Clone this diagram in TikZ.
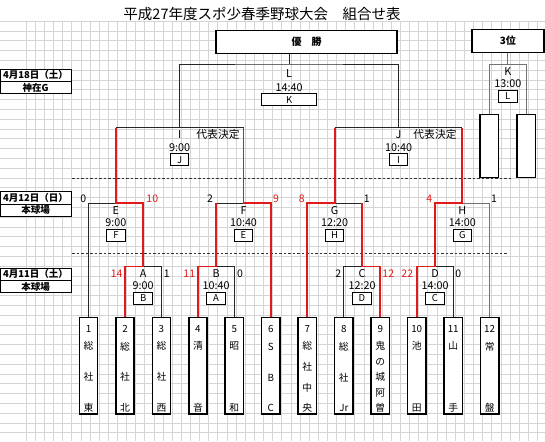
\documentclass[tikz,border=0pt]{standalone}
\usepackage{fontspec}
\setmainfont{Noto Sans CJK JP}
\usetikzlibrary{positioning}

\definecolor{gridgray}{RGB}{212,212,212}
\definecolor{winred}{RGB}{225,25,25}

\tikzset{
  gridline/.style={gridgray, line width=0.5pt},
  bracket/.style={black!85, line width=0.9pt},
  lightbracket/.style={black!55, line width=0.9pt},
  winpath/.style={winred, line width=1.8pt},
  sepline/.style={black!80, line width=0.8pt, dash pattern=on 2.5pt off 2pt},
  teambox/.style={draw, line width=1.5pt, fill=white, minimum width=18.3pt,
    minimum height=96.6pt, inner sep=0pt, anchor=north},
  teamname/.style={align=center, inner sep=0pt, font=\fontsize{9.8}{11}\selectfont},
  letterbox/.style={draw, line width=1pt, fill=white, minimum width=18.5pt,
    minimum height=11.6pt, inner sep=0pt, font=\fontsize{9.5}{9.5}\selectfont},
  headbox/.style={draw, line width=1.3pt, fill=white, minimum height=23.3pt,
    inner sep=0pt, font=\fontsize{10}{10}\selectfont\bfseries},
  datebox/.style={draw, line width=0.9pt, fill=white, minimum width=71pt,
    minimum height=12.4pt, inner sep=0pt, font=\fontsize{9.5}{9.5}\selectfont\bfseries},
  emptybox/.style={draw, line width=1.5pt, fill=white, minimum width=18.6pt,
    minimum height=63.4pt, inner sep=0pt},
  matchtext/.style={inner sep=0pt, font=\fontsize{10.8}{10.8}\selectfont},
  score/.style={inner sep=0pt, font=\fontsize{10.5}{10.5}\selectfont},
  winscore/.style={score, winred}
}

\begin{document}
\begin{tikzpicture}[x=1pt, y=-1pt]
    \useasboundingbox (0,0) rectangle (545,441);
    \fill[white] (0,0) rectangle (545,441);

    % Sheet grid
    \foreach \k in {0,...,56}
        \draw[gridline] ({26+9.13*\k},21) -- ({26+9.13*\k},441);
    \foreach \k in {0,...,42}
        \draw[gridline] (0,{21+9.8*\k}) -- (545,{21+9.8*\k});

    % Title
    \node[font=\fontsize{14.5}{14.5}\selectfont] (title) at (262,14)
        {平成27年度スポ少春季野球大会　組合せ表};

    % Day separators
    \draw[sepline] (72,178) -- (512,178);
    \draw[sepline] (72,253.3) -- (507,253.3);

    % Dates and grounds
    \node[datebox] (day3) at (35.5,75.3) {4月18日（土）};
    \node[datebox, below=-0.9pt of day3] (ground3) {神在G};
    \node[datebox] (day2) at (35.5,198) {4月12日（日）};
    \node[datebox, below=-0.9pt of day2] (ground2) {本球場};
    \node[datebox] (day1) at (35.5,274.3) {4月11日（土）};
    \node[datebox, below=-0.9pt of day1] (ground1) {本球場};

    % Teams
    \foreach \n/\name in {
        1/{1\\[6.7pt]総\\[19.8pt]社\\[19.8pt]東},
        2/{2\\[6.7pt]総\\[19.8pt]社\\[19.8pt]北},
        3/{3\\[6.7pt]総\\[19.8pt]社\\[19.8pt]西},
        4/{4\\[6.7pt]清\\[50.7pt]音},
        5/{5\\[6.7pt]昭\\[50.7pt]和},
        6/{6\\[6.7pt]S\\[19.8pt]B\\[19.8pt]C},
        7/{7\\[6.7pt]総\\[9.6pt]社\\[9.6pt]中\\[9.6pt]央},
        8/{8\\[6.7pt]総\\[19.8pt]社\\[19.8pt]Jr},
        9/{9\\[6.7pt]鬼\\[4.4pt]の\\[4.4pt]城\\[4.4pt]阿\\[4.4pt]曽},
        10/{10\\[6.7pt]池\\[50.7pt]田},
        11/{11\\[6.7pt]山\\[50.7pt]手},
        12/{12\\[6.7pt]常\\[50.7pt]盤}}
    {
        \node[teambox] (t\n) at ({88.5+36.47*(\n-1)},316.7) {};
        \node[teamname] (n\n) at ([yshift=-3pt]t\n.center) {\name};
    }

    % Final and third place boxes
    \node[headbox, minimum width=181pt] (champ) at (306.5,42.2) {優　勝};
    \node[headbox, minimum width=72pt] (third) at (507.9,41) {3位};
    \node[emptybox] (q1) at (489.3,146) {};
    \node[emptybox] (q2) at (526.2,146) {};

    % Match points: first round
    \coordinate (A) at (143.2,266.5);
    \coordinate (B) at (216.1,266.5);
    \coordinate (C) at (362.0,266.5);
    \coordinate (D) at (435.0,266.5);
    % second round
    \coordinate (E) at (115.9,203.3);
    \coordinate (F) at (243.5,203.3);
    \coordinate (G) at (334.7,203.3);
    \coordinate (H) at (462.3,203.3);
    % representatives
    \coordinate (I) at (179.7,127.7);
    \coordinate (J) at (398.5,127.7);
    % final and third place
    \coordinate (L) at (289.1,64);
    \coordinate (K) at (507.8,64.3);

    % Bracket lines
    \draw[bracket] (t1.north) |- (E);
    \draw[bracket] (t3.north) |- (A);
    \draw[bracket] (t5.north) |- (B);
    \draw[bracket] (t8.north) |- (C);
    \draw[bracket] (t11.north) |- (D);
    \draw[lightbracket] (t12.north) |- (H);
    \draw[bracket] (B |- F) -- (F);
    \draw[bracket] (C |- G) -- (G);
    \draw[bracket] (E |- I) -- (F |- I);
    \draw[bracket] (G |- J) -- (H |- J);
    \draw[bracket] (I) |- (L) -| (J);
    \draw[bracket] (L) -- (L |- champ.south);
    \draw[lightbracket] (q1.north) |- (K) -| (q2.north);
    \draw[lightbracket] (K) -- (K |- third.south);

    % Winners
    \draw[winpath] (t2.north) |- (A) |- (E) -- (E |- I);
    \draw[winpath] (t4.north) |- (B) -- (B |- F);
    \draw[winpath] (t6.north) |- (F) -- (F |- I);
    \draw[winpath] (t7.north) |- (G) -- (G |- J);
    \draw[winpath] (t9.north) |- (C) -- (C |- G);
    \draw[winpath] (t10.north) |- (D) |- (H) -- (H |- J);

    % Match names, times and next opponents
    \foreach \m/\tm/\nx in {A/9:00/B, B/10:40/A, C/12:20/D, D/14:00/C,
        E/9:00/F, F/10:40/E, G/12:20/H, H/14:00/G, I/9:00/J, J/10:40/I, K/13:00/L}
    {
        \node[matchtext] (name\m) at ([yshift=-6.8pt]\m) {\m};
        \node[matchtext] (time\m) at ([yshift=-19.6pt]\m) {\tm};
        \node[letterbox] (next\m) at ([yshift=-32pt]\m) {\nx};
    }
    \node[matchtext] (nameL) at ([yshift=-10pt]L) {L};
    \node[matchtext] (timeL) at ([yshift=-23.6pt]L) {14:40};
    \node[letterbox, minimum width=55pt] (nextL) at ([yshift=-35.6pt]L) {K};
    \node[matchtext] (repI) at (218,134.3) {代表決定};
    \node[matchtext] (repJ) at (435,134.3) {代表決定};

    % Scores
    \node[score] (sE1) at (83.3,198.3) {0};
    \node[winscore] (sE2) at (152.3,198.3) {10};
    \node[score] (sF1) at (210,198.3) {2};
    \node[winscore] (sF2) at (276,198.3) {9};
    \node[winscore] (sG1) at (301.7,198.3) {8};
    \node[score] (sG2) at (366.7,198.3) {1};
    \node[winscore] (sH1) at (429.3,198.3) {4};
    \node[score] (sH2) at (494,198.3) {1};
    \node[winscore] (sA1) at (116.7,273.3) {14};
    \node[score] (sA2) at (166.7,273.3) {1};
    \node[winscore] (sB1) at (189.3,273.3) {11};
    \node[score] (sB2) at (240,273.3) {0};
    \node[score] (sC1) at (338.3,273.3) {2};
    \node[winscore] (sC2) at (388.3,273.3) {12};
    \node[winscore] (sD1) at (407.3,273.3) {22};
    \node[score] (sD2) at (458.3,273.3) {0};

\end{tikzpicture}
\end{document}
